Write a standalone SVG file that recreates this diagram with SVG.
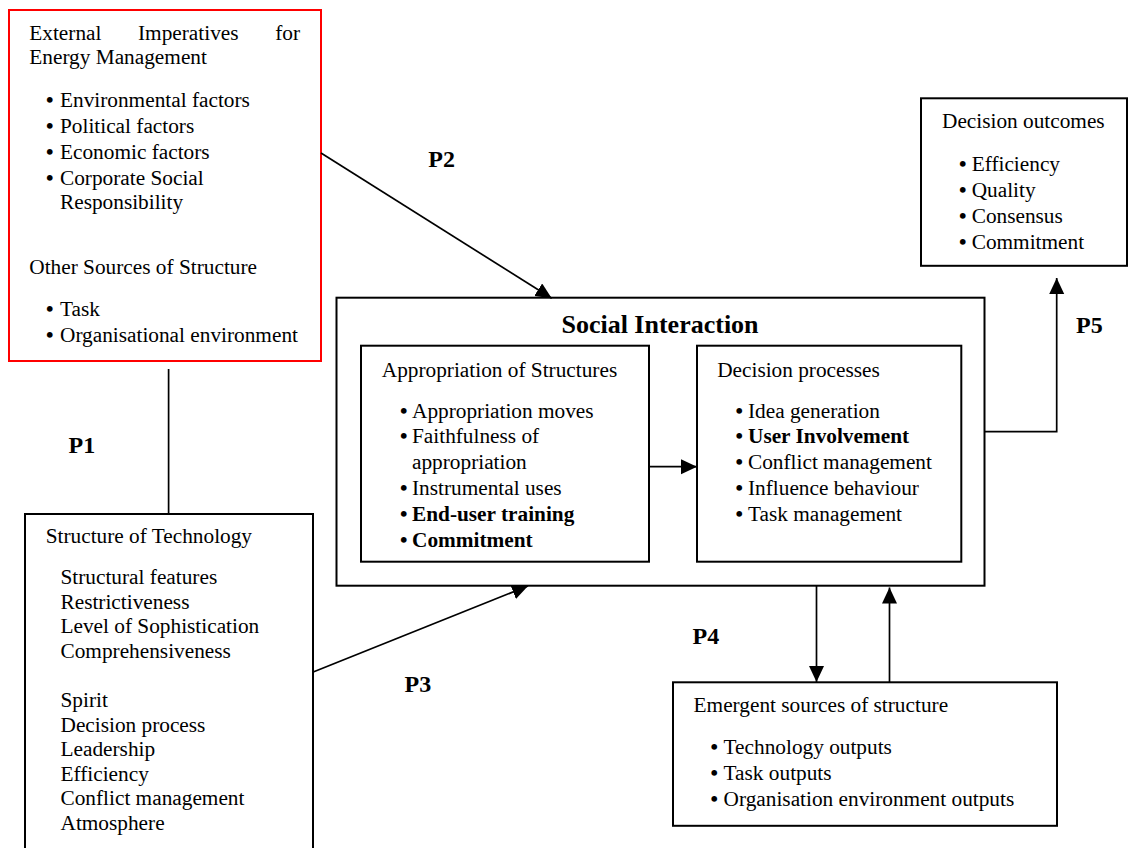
<svg xmlns="http://www.w3.org/2000/svg" width="1128" height="848" viewBox="0 0 1128 848">
<defs>
<style>
text{font-family:"Liberation Serif","Times New Roman",serif;font-size:21.3px;fill:#000}
.b{font-weight:bold}
.bu{font-weight:bold}
.p{font-weight:bold;font-size:24px}
.h{font-weight:bold;font-size:26px}
.box{fill:#fff;stroke:#000;stroke-width:2}
.red{fill:#fff;stroke:#ff0000;stroke-width:2}
.ln{fill:none;stroke:#000;stroke-width:1.7}
</style>
<marker id="ah" markerUnits="userSpaceOnUse" markerWidth="17" markerHeight="16" refX="16" refY="7.5" orient="auto">
<path d="M0,0 L16,7.5 L0,15 z" fill="#000"/>
</marker>
</defs>
<rect width="1128" height="848" fill="#fff"/>

<g id="external">
<rect class="red" x="9" y="10" width="312" height="351"/>
<text x="29.3" y="40">External</text>
<text x="138" y="40">Imperatives</text>
<text x="300" y="40" text-anchor="end">for</text>
<text x="29.3" y="64">Energy Management</text>
<text x="46" y="107"><tspan class="bu">•</tspan><tspan x="60">Environmental factors</tspan></text>
<text x="46" y="132.7"><tspan class="bu">•</tspan><tspan x="60">Political factors</tspan></text>
<text x="46" y="158.5"><tspan class="bu">•</tspan><tspan x="60">Economic factors</tspan></text>
<text x="46" y="184.5"><tspan class="bu">•</tspan><tspan x="60">Corporate Social</tspan><tspan x="60" dy="24">Responsibility</tspan></text>
<text x="29.3" y="274">Other Sources of Structure</text>
<text x="46" y="315.5"><tspan class="bu">•</tspan><tspan x="60">Task</tspan></text>
<text x="46" y="341.5"><tspan class="bu">•</tspan><tspan x="60">Organisational environment</tspan></text>
</g>

<g id="technology">
<rect class="box" x="25" y="514" width="288" height="350"/>
<text x="45.7" y="543">Structure of Technology</text>
<text x="60.5" y="584">Structural features</text>
<text x="60.5" y="608.5">Restrictiveness</text>
<text x="60.5" y="633">Level of Sophistication</text>
<text x="60.5" y="658">Comprehensiveness</text>
<text x="60.5" y="707">Spirit</text>
<text x="60.5" y="731.5">Decision process</text>
<text x="60.5" y="756">Leadership</text>
<text x="60.5" y="780.5">Efficiency</text>
<text x="60.5" y="805">Conflict management</text>
<text x="60.5" y="829.5">Atmosphere</text>
</g>

<g id="social">
<rect class="box" x="336.5" y="297.7" width="648" height="288"/>
<text class="h" x="660" y="333" text-anchor="middle">Social Interaction</text>
</g>

<g id="appropriation">
<rect class="box" x="361" y="345.7" width="288" height="216"/>
<text x="381.8" y="376.7">Appropriation of Structures</text>
<text x="400" y="417.7"><tspan class="bu">•</tspan><tspan x="412">Appropriation moves</tspan></text>
<text x="400" y="443.3"><tspan class="bu">•</tspan><tspan x="412">Faithfulness of</tspan><tspan x="412" dy="26">appropriation</tspan></text>
<text x="400" y="495"><tspan class="bu">•</tspan><tspan x="412">Instrumental uses</tspan></text>
<text x="400" y="520.7"><tspan class="bu">•</tspan><tspan class="b" x="412">End-user training</tspan></text>
<text x="400" y="546.7"><tspan class="bu">•</tspan><tspan class="b" x="412">Commitment</tspan></text>
</g>

<g id="decision-processes">
<rect class="box" x="697" y="345.7" width="264.3" height="216"/>
<text x="717.2" y="376.7">Decision processes</text>
<text x="735.5" y="417.7"><tspan class="bu">•</tspan><tspan x="748">Idea generation</tspan></text>
<text x="735.5" y="443.3"><tspan class="bu">•</tspan><tspan class="b" x="748">User Involvement</tspan></text>
<text x="735.5" y="469.3"><tspan class="bu">•</tspan><tspan x="748">Conflict management</tspan></text>
<text x="735.5" y="495"><tspan class="bu">•</tspan><tspan x="748">Influence behaviour</tspan></text>
<text x="735.5" y="520.7"><tspan class="bu">•</tspan><tspan x="748">Task management</tspan></text>
</g>

<g id="outcomes">
<rect class="box" x="921" y="98.3" width="206" height="167.5"/>
<text x="942" y="128.3">Decision outcomes</text>
<text x="959" y="171"><tspan class="bu">•</tspan><tspan x="971.7">Efficiency</tspan></text>
<text x="959" y="197"><tspan class="bu">•</tspan><tspan x="971.7">Quality</tspan></text>
<text x="959" y="223"><tspan class="bu">•</tspan><tspan x="971.7">Consensus</tspan></text>
<text x="959" y="249"><tspan class="bu">•</tspan><tspan x="971.7">Commitment</tspan></text>
</g>

<g id="emergent">
<rect class="box" x="673" y="682.3" width="384" height="143.5"/>
<text x="693.6" y="711.7">Emergent sources of structure</text>
<text x="710.5" y="754"><tspan class="bu">•</tspan><tspan x="723.6">Technology outputs</tspan></text>
<text x="710.5" y="780"><tspan class="bu">•</tspan><tspan x="723.6">Task outputs</tspan></text>
<text x="710.5" y="806"><tspan class="bu">•</tspan><tspan x="723.6">Organisation environment outputs</tspan></text>
</g>

<g id="connectors">
<line class="ln" x1="168.6" y1="369" x2="168.6" y2="514"/>
<line class="ln" x1="321" y1="153" x2="551.7" y2="298.3" marker-end="url(#ah)"/>
<line class="ln" x1="313.2" y1="672" x2="528" y2="586" marker-end="url(#ah)"/>
<line class="ln" x1="649" y1="466.7" x2="697" y2="466.7" marker-end="url(#ah)"/>
<polyline class="ln" points="985,431.7 1056.7,431.7 1056.7,278" marker-end="url(#ah)"/>
<line class="ln" x1="816.5" y1="586" x2="816.5" y2="682" marker-end="url(#ah)"/>
<line class="ln" x1="889.5" y1="682" x2="889.5" y2="587.5" marker-end="url(#ah)"/>
<text class="p" x="68.6" y="453">P1</text>
<text class="p" x="428.3" y="166.7">P2</text>
<text class="p" x="404.6" y="692">P3</text>
<text class="p" x="692.6" y="644">P4</text>
<text class="p" x="1076" y="333">P5</text>
</g>
</svg>
